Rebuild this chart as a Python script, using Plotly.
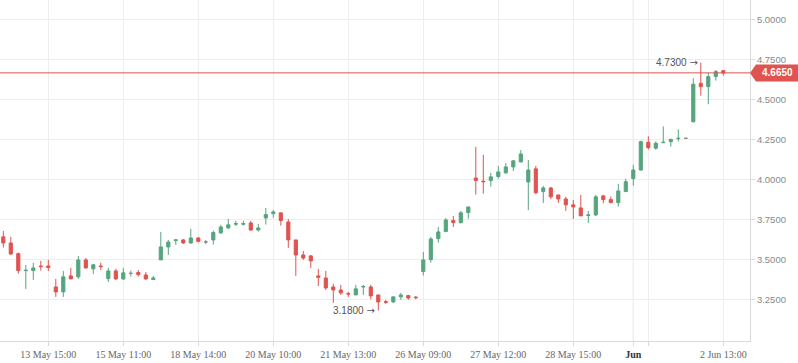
import plotly.graph_objects as go

# ---- data ----
opens = [3.640, 3.602, 3.535, 3.429, 3.429, 3.458, 3.458, 3.327, 3.296, 3.396,
         3.390, 3.496, 3.440, 3.458, 3.379, 3.427, 3.377, 3.412, 3.417, 3.402,
         3.373, 3.496, 3.577, 3.617, 3.621, 3.602, 3.633, 3.608, 3.621, 3.665,
         3.696, 3.719, 3.719, 3.727, 3.683, 3.758, 3.785, 3.790, 3.733, 3.621,
         3.527, 3.521, 3.396, 3.383, 3.327, 3.308, 3.285, 3.277, 3.327, 3.327,
         3.277, 3.235, 3.233, 3.265, 3.273, 3.263, 3.423, 3.498, 3.629, 3.673,
         3.742, 3.729, 3.792, 4.008, 3.988, 3.992, 4.017, 4.040, 4.077, 4.108,
         3.983, 4.065, 3.923, 3.946, 3.902, 3.877, 3.840, 3.821, 3.773, 3.777,
         3.896, 3.873, 3.854, 3.923, 4.004, 4.058, 4.231, 4.194, 4.229, 4.235,
         4.254, 4.256, 4.360, 4.600, 4.579, 4.642, 4.679]
highs = [3.677, 3.640, 3.542, 3.465, 3.477, 3.490, 3.496, 3.377, 3.427, 3.446,
         3.521, 3.508, 3.471, 3.479, 3.446, 3.440, 3.446, 3.429, 3.433, 3.421,
         3.396, 3.671, 3.621, 3.627, 3.627, 3.690, 3.640, 3.621, 3.679, 3.715,
         3.752, 3.740, 3.740, 3.740, 3.721, 3.821, 3.808, 3.790, 3.752, 3.621,
         3.552, 3.527, 3.440, 3.427, 3.346, 3.340, 3.296, 3.340, 3.340, 3.340,
         3.277, 3.246, 3.265, 3.290, 3.277, 3.271, 3.546, 3.640, 3.702, 3.758,
         3.771, 3.802, 3.827, 4.202, 4.152, 4.040, 4.083, 4.102, 4.121, 4.183,
         4.121, 4.083, 3.958, 3.952, 3.902, 3.890, 3.871, 3.902, 3.802, 3.902,
         3.902, 3.892, 3.971, 4.004, 4.090, 4.242, 4.269, 4.237, 4.331, 4.250,
         4.312, 4.256, 4.631, 4.730, 4.667, 4.683, 4.679]
lows = [3.573, 3.527, 3.410, 3.315, 3.371, 3.429, 3.427, 3.265, 3.265, 3.377,
        3.377, 3.440, 3.408, 3.433, 3.358, 3.371, 3.371, 3.392, 3.392, 3.371,
        3.373, 3.496, 3.527, 3.590, 3.596, 3.596, 3.605, 3.594, 3.592, 3.658,
        3.690, 3.708, 3.710, 3.677, 3.673, 3.717, 3.760, 3.710, 3.571, 3.396,
        3.496, 3.446, 3.333, 3.308, 3.227, 3.277, 3.265, 3.277, 3.277, 3.250,
        3.180, 3.221, 3.227, 3.246, 3.246, 3.250, 3.398, 3.479, 3.604, 3.673,
        3.702, 3.723, 3.754, 3.904, 3.910, 3.954, 4.004, 4.035, 4.052, 4.108,
        3.808, 3.908, 3.852, 3.877, 3.852, 3.802, 3.752, 3.771, 3.727, 3.771,
        3.850, 3.850, 3.829, 3.923, 3.960, 4.054, 4.185, 4.185, 4.225, 4.204,
        4.237, 4.256, 4.354, 4.523, 4.469, 4.617, 4.648]
closes = [3.602, 3.533, 3.429, 3.431, 3.446, 3.454, 3.448, 3.296, 3.390, 3.377,
          3.496, 3.446, 3.465, 3.454, 3.427, 3.377, 3.415, 3.412, 3.404, 3.377,
          3.383, 3.577, 3.608, 3.621, 3.602, 3.633, 3.612, 3.608, 3.667, 3.702,
          3.715, 3.723, 3.723, 3.683, 3.696, 3.779, 3.796, 3.742, 3.621, 3.527,
          3.508, 3.490, 3.387, 3.321, 3.308, 3.290, 3.283, 3.315, 3.329, 3.271,
          3.233, 3.231, 3.265, 3.277, 3.258, 3.260, 3.496, 3.627, 3.671, 3.746,
          3.729, 3.790, 3.827, 3.992, 3.985, 4.015, 4.046, 4.077, 4.115, 4.158,
          4.058, 3.915, 3.946, 3.890, 3.877, 3.840, 3.827, 3.771, 3.777, 3.890,
          3.873, 3.854, 3.927, 3.985, 4.058, 4.235, 4.198, 4.225, 4.231, 4.250,
          4.256, 4.256, 4.594, 4.579, 4.642, 4.673, 4.665]
idx = list(range(len(opens)))

tick_idx = [6, 16, 26, 36, 46, 56, 66, 76, 84, 86, 96]
tick_labels = ["13 May 15:00", "15 May 11:00", "18 May 14:00", "20 May 10:00",
               "21 May 13:00", "26 May 09:00", "27 May 12:00", "28 May 15:00",
               "<b><span style='color:#333'>Jun</span></b>", "", "2 Jun 13:00"]
y_ticks = [3.25, 3.5, 3.75, 4.0, 4.25, 4.5, 4.75, 5.0]

last_price = 4.665
max_idx, max_val = 93, 4.730
min_idx, min_val = 50, 3.180

GREEN = "#55a57e"
RED = "#e0534f"
GRAY = "#8a8a8a"

flat = [o == c for o, c in zip(opens, closes)]
def pick(arr, want):
    return [v for v, f in zip(arr, flat) if f == want]

fig = go.Figure()
fig.add_trace(go.Candlestick(
    x=pick(idx, False), open=pick(opens, False), high=pick(highs, False),
    low=pick(lows, False), close=pick(closes, False),
    increasing=dict(line=dict(color=GREEN, width=1), fillcolor=GREEN),
    decreasing=dict(line=dict(color=RED, width=1), fillcolor=RED),
    hoverinfo="none", showlegend=False))
fig.add_trace(go.Candlestick(
    x=pick(idx, True), open=pick(opens, True), high=pick(highs, True),
    low=pick(lows, True), close=pick(closes, True),
    increasing=dict(line=dict(color=GRAY, width=1), fillcolor=GRAY),
    decreasing=dict(line=dict(color=GRAY, width=1), fillcolor=GRAY),
    hoverinfo="none", showlegend=False))

shapes = [
    dict(type="line", xref="x", yref="paper", x0=84, x1=84, y0=0, y1=1,
         line=dict(color="#d6d6d6", width=1), layer="below"),
    dict(type="line", xref="paper", yref="y", x0=0, x1=1, y0=last_price, y1=last_price,
         line=dict(color=RED, width=1)),
    dict(type="path", xref="paper", yref="y", xsizemode="pixel", ysizemode="pixel",
         xanchor=1, yanchor=last_price,
         path="M 0,0 L 6,8.5 L 48,8.5 L 48,-8.5 L 6,-8.5 Z",
         fillcolor=RED, line=dict(width=0)),
]

ARROW = "<span style='font-family:DejaVu Sans'>→</span>"
annotations = [
    dict(xref="paper", yref="y", x=1, y=last_price, xanchor="center", yanchor="middle",
         xshift=27, text="<b>4.6650</b>", showarrow=False,
         font=dict(family="Liberation Sans", size=10, color="white")),
    dict(xref="x", yref="y", x=max_idx, y=max_val, xanchor="right", yanchor="middle",
         xshift=-1, text=f"{max_val:.4f} {ARROW}", showarrow=False,
         font=dict(family="Liberation Sans", size=10, color="#555")),
    dict(xref="x", yref="y", x=min_idx, y=min_val, xanchor="right", yanchor="middle",
         xshift=-1, text=f"{min_val:.4f} {ARROW}", showarrow=False,
         font=dict(family="Liberation Sans", size=10, color="#555")),
]

fig.update_layout(
    width=798, height=363, autosize=False,
    margin=dict(l=0, r=48, t=0, b=22),
    paper_bgcolor="white", plot_bgcolor="white",
    boxgap=0.4,
    shapes=shapes, annotations=annotations,
    hovermode=False,
    xaxis=dict(range=[-0.44, 99.56], tickmode="array", tickvals=tick_idx, ticktext=tick_labels,
               showgrid=True, gridcolor="#eeeeee", gridwidth=1,
               showline=True, linecolor="#dadada", linewidth=1,
               ticks="outside", ticklen=4, tickcolor="#dadada",
               tickfont=dict(family="Liberation Serif", size=10, color="#666"),
               rangeslider=dict(visible=False), zeroline=False, fixedrange=True),
    yaxis=dict(range=[2.989, 5.1206], side="right", tickmode="array", tickvals=y_ticks,
               ticktext=[f"{v:.4f}" for v in y_ticks],
               showgrid=True, gridcolor="#eeeeee", gridwidth=1,
               showline=True, linecolor="#dadada", linewidth=1,
               ticks="outside", ticklen=4, tickcolor="#dadada",
               tickfont=dict(family="Liberation Sans", size=9.5, color="#888"),
               zeroline=False, fixedrange=True),
)

fig.write_html("out.html")
